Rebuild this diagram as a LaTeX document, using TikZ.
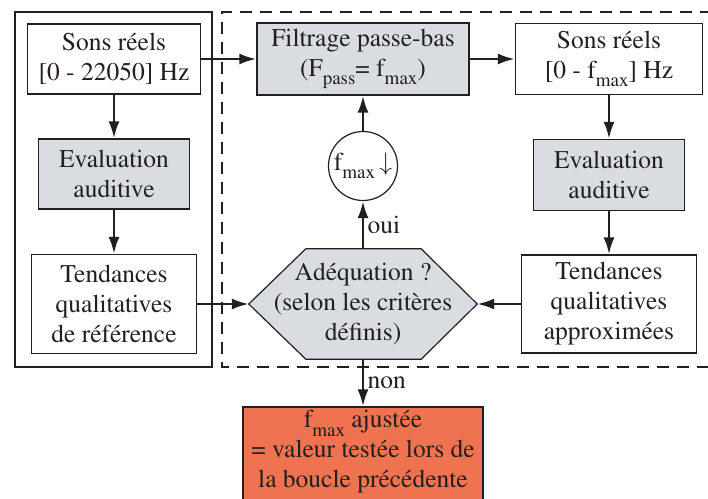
\documentclass[tikz,border=0pt]{standalone}
\usepackage[T1]{fontenc}
\usepackage{mathptmx}
\usepackage{bm}
\usepackage{xcolor}
\usetikzlibrary{arrows.meta,positioning,shapes}
\definecolor{boxgrey}{HTML}{D9DCE1}
\definecolor{boxred}{HTML}{EF7351}
\definecolor{encre}{HTML}{231F20}
\newcommand{\lowsub}[1]{\raisebox{-0.32em}{\fontsize{19}{19}\selectfont #1}}
\tikzstyle{bloc} = [draw=encre, line width=1.2pt, align=center, inner sep=0pt, fill=white, text=encre]
\tikzstyle{grisbloc} = [bloc, fill=boxgrey]
\tikzstyle{fleche} = [draw=encre, line width=2.6pt, -{Latex[length=17pt,width=11pt]}]

\begin{document}
\begin{tikzpicture}[x=1pt, y=-1pt, font=\rmfamily\fontsize{25.5}{30}\selectfont]
\useasboundingbox (0,0) rectangle (708,498);
% cadres
\draw[encre, line width=1.2pt] (15,12) rectangle (212,367);
\draw[encre, line width=1.2pt, dash pattern=on 12pt off 8pt] (712,12) -- (222,12) -- (222,367) -- (712,367);

% colonne gauche
\node[bloc, minimum width=173pt, minimum height=70pt] (sons1) at (114,59) {Sons réels\\{}[0 - 22050] Hz};
\node[grisbloc, minimum width=151pt, minimum height=70pt] (eval1) at (114,174) {Evaluation\\auditive};
\node[bloc, minimum width=165pt, minimum height=99pt] (tend1) at (114,304) {Tendances\\qualitatives\\de référence};

% colonne centrale
\node[grisbloc, minimum width=212pt, minimum height=72pt] (filtre) at (363,59) {Filtrage passe-bas\\(F\lowsub{pass}= f\lowsub{max})};
\node[draw=encre, circle, line width=1.2pt, minimum size=69pt, inner sep=0pt, fill=white, text=encre] (fmax) at (363,166) {f\lowsub{max}\,$\bm{\downarrow}$};
\node[minimum width=228pt, minimum height=110pt] (adeq) at (363,304) {};
\draw[encre, line width=1.2pt, fill=boxgrey] (adeq.west) -- ([xshift=57pt]adeq.north west) -- ([xshift=-56pt]adeq.north east) -- (adeq.east)
  -- ([xshift=-56pt]adeq.south east) -- ([xshift=57pt]adeq.south west) -- cycle;
\node[align=center, text=encre] (adeqtxt) at (adeq) {Adéquation ?\\(selon les critères\\définis)};
% boite rouge, coupee en bas
\node[bloc, fill=boxred, minimum width=240pt, minimum height=114pt] (ajust) at (363,464) {};
\node[align=center, text=encre] (ajusttxt) at (363,452) {f\lowsub{max} ajustée\\= valeur testée lors de\\la boucle précédente};

% colonne droite
\node[bloc, minimum width=187pt, minimum height=71pt] (sons2) at (609,59) {Sons réels\\{}[0 - f\lowsub{max}] Hz};
\node[grisbloc, minimum width=151pt, minimum height=71pt] (eval2) at (609,175) {Evaluation\\auditive};
\node[bloc, minimum width=175pt, minimum height=98pt] (tend2) at (609,304) {Tendances\\qualitatives\\approximées};

\draw[fleche] (sons1) -- (filtre);
\draw[fleche] (sons1) -- (eval1);
\draw[fleche] (eval1) -- (tend1);
\draw[fleche] (tend1) -- (adeq);
\draw[fleche] (filtre) -- (sons2);
\draw[fleche] (sons2) -- (eval2);
\draw[fleche] (eval2) -- (tend2);
\draw[fleche] (tend2) -- (adeq);
\draw[fleche] (adeq) -- node[right, text=encre] (oui) {oui} (fmax);
\draw[fleche] (fmax) -- (filtre);
\draw[fleche] (adeq) -- node[right, text=encre] (non) {non} (ajust);
\end{tikzpicture}
\end{document}
